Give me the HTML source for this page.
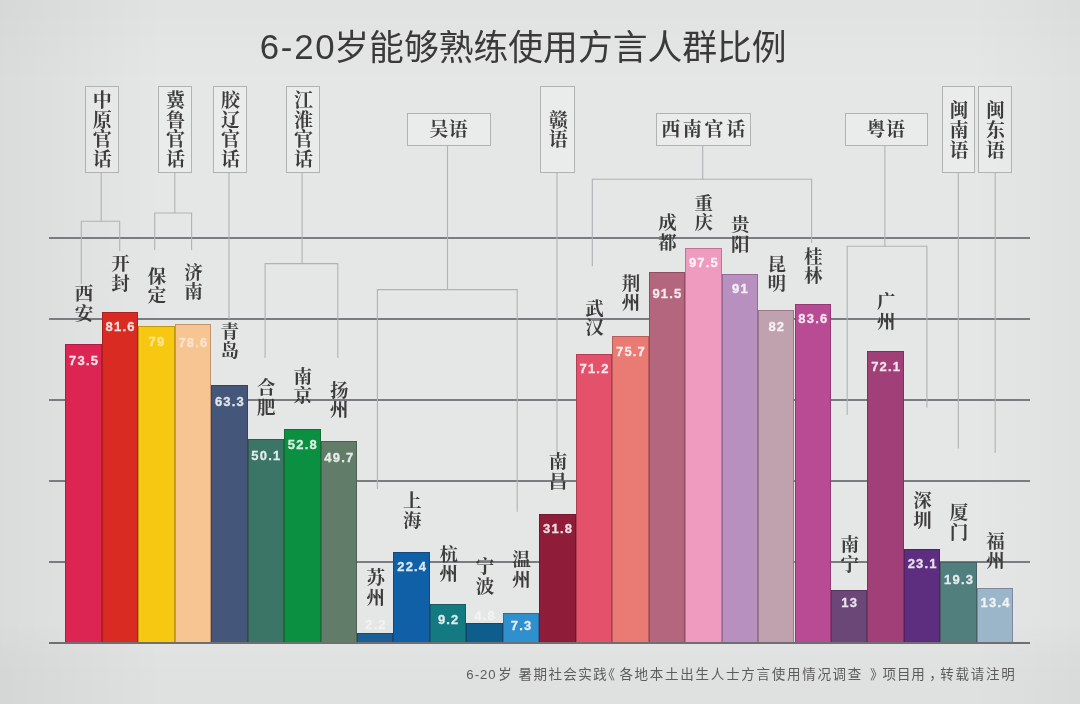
<!DOCTYPE html>
<html lang="zh"><head><meta charset="utf-8"><title>6-20岁能够熟练使用方言人群比例</title>
<style>
html,body{margin:0;padding:0}
body{width:1080px;height:704px;overflow:hidden;font-family:"Liberation Sans",sans-serif;background:#e2e3e4}
#c{position:relative;width:1080px;height:704px;overflow:hidden;
 background:
  linear-gradient(to right,rgba(0,0,6,.048) 0,rgba(0,0,6,.03) 5%,rgba(0,0,0,0) 15%,rgba(0,0,0,0) 90%,rgba(0,0,6,.028) 100%),
  linear-gradient(to bottom,rgba(0,0,6,.02) 0,rgba(0,0,0,0) 12%,rgba(0,0,0,0) 88%,rgba(0,0,6,.024) 94%,rgba(0,0,6,.028) 100%),
  #e5e6e6}
#b{position:absolute;left:0;top:0;width:1080px;height:704px;filter:blur(0.75px);}
.grid{position:absolute;left:48.5px;width:981.0px;height:1.5px;background:#7a7c7f}
.bar{position:absolute;box-sizing:border-box;border:1px solid rgba(40,0,20,.25);border-bottom:0}
.val{position:absolute;color:#fff;font-weight:bold;font-size:13px;line-height:13px;letter-spacing:1.2px;text-align:center;text-indent:1.2px;opacity:.86;-webkit-text-stroke:.3px #fff}
.box{position:absolute;border:1px solid #b1b2b4;background:rgba(255,255,255,.2)}
svg{position:absolute;left:0;top:0}
.t{position:absolute;color:transparent;white-space:nowrap;overflow:hidden}
.t.v{text-align:center}
h1,p{margin:0;font-weight:normal}
</style></head><body><div id="c"><div id="b">
<div class="grid" style="top:642.00px"></div>
<div class="grid" style="top:561.00px"></div>
<div class="grid" style="top:480.00px"></div>
<div class="grid" style="top:399.00px"></div>
<div class="grid" style="top:318.00px"></div>
<div class="grid" style="top:237.00px"></div>
<svg width="1080" height="704" viewBox="0 0 1080 704" fill="none" stroke="#b0b2b4" stroke-width="1.1">
<polyline points="101.2,172.2 101.2,221.2"/>
<polyline points="81.3,284.0 81.3,221.2 119.7,221.2 119.7,251.0"/>
<polyline points="174.8,172.2 174.8,213.0"/>
<polyline points="154.7,250.0 154.7,213.0 191.6,213.0 191.6,250.0"/>
<polyline points="229.0,172.2 229.0,319.0"/>
<polyline points="302.1,172.2 302.1,263.6"/>
<polyline points="265.1,358.0 265.1,263.6 337.8,263.6 337.8,358.0"/>
<polyline points="447.5,145.3 447.5,289.6"/>
<polyline points="377.4,489.0 377.4,289.6 517.2,289.6 517.2,511.7"/>
<polyline points="557.0,172.2 557.0,452.0"/>
<polyline points="702.7,145.3 702.7,179.3"/>
<polyline points="592.3,266.3 592.3,179.3 811.6,179.3 811.6,243.0"/>
<polyline points="884.9,145.3 884.9,246.2"/>
<polyline points="847.2,414.7 847.2,246.2 926.9,246.2 926.9,407.6"/>
<polyline points="958.3,172.2 958.3,448.5"/>
<polyline points="995.2,172.2 995.2,453.0"/>
</svg>
<div class="box" style="left:84.6px;top:86.2px;width:32.3px;height:84.5px"></div>
<div class="box" style="left:157.7px;top:86.2px;width:32.6px;height:84.5px"></div>
<div class="box" style="left:212.7px;top:86.2px;width:32.6px;height:84.5px"></div>
<div class="box" style="left:286.0px;top:86.2px;width:32.1px;height:84.5px"></div>
<div class="box" style="left:406.8px;top:112.5px;width:82.2px;height:31.3px"></div>
<div class="box" style="left:540.3px;top:86.2px;width:32.8px;height:84.5px"></div>
<div class="box" style="left:655.9px;top:112.5px;width:93.2px;height:31.3px"></div>
<div class="box" style="left:844.5px;top:112.5px;width:81.4px;height:31.3px"></div>
<div class="box" style="left:941.7px;top:86.2px;width:31.5px;height:84.5px"></div>
<div class="box" style="left:978.0px;top:86.2px;width:32.3px;height:84.5px"></div>
<div class="bar" style="left:65.30px;top:344.40px;width:36.46px;height:298.90px;background:#dc2553"></div>
<div class="bar" style="left:101.76px;top:311.90px;width:36.46px;height:331.40px;background:#da2b22"></div>
<div class="bar" style="left:138.22px;top:326.10px;width:36.46px;height:317.20px;background:#f7c811"></div>
<div class="bar" style="left:174.68px;top:323.90px;width:36.46px;height:319.40px;background:#f6c592"></div>
<div class="bar" style="left:211.14px;top:385.40px;width:36.46px;height:257.90px;background:#44577b"></div>
<div class="bar" style="left:247.60px;top:439.30px;width:36.46px;height:204.00px;background:#3a7566"></div>
<div class="bar" style="left:284.06px;top:428.50px;width:36.46px;height:214.80px;background:#0a9040"></div>
<div class="bar" style="left:320.52px;top:440.80px;width:36.46px;height:202.50px;background:#617c68"></div>
<div class="bar" style="left:356.98px;top:633.00px;width:36.46px;height:10.30px;background:#1b5f97"></div>
<div class="bar" style="left:393.44px;top:551.60px;width:36.46px;height:91.70px;background:#0f60a6"></div>
<div class="bar" style="left:429.90px;top:604.40px;width:36.46px;height:38.90px;background:#137a82"></div>
<div class="bar" style="left:466.36px;top:622.80px;width:36.46px;height:20.50px;background:#0e5d8d"></div>
<div class="bar" style="left:502.82px;top:613.10px;width:36.46px;height:30.20px;background:#2f90cd"></div>
<div class="bar" style="left:539.28px;top:514.30px;width:36.46px;height:129.00px;background:#8f1c39"></div>
<div class="bar" style="left:575.74px;top:353.90px;width:36.46px;height:289.40px;background:#e3516a"></div>
<div class="bar" style="left:612.20px;top:336.20px;width:36.46px;height:307.10px;background:#e97b74"></div>
<div class="bar" style="left:648.66px;top:271.50px;width:36.46px;height:371.80px;background:#b3667d"></div>
<div class="bar" style="left:685.12px;top:248.10px;width:36.46px;height:395.20px;background:#ef9bc0"></div>
<div class="bar" style="left:721.58px;top:273.50px;width:36.46px;height:369.80px;background:#b890c0"></div>
<div class="bar" style="left:758.04px;top:309.60px;width:36.46px;height:333.70px;background:#c0a1ae"></div>
<div class="bar" style="left:794.50px;top:303.90px;width:36.46px;height:339.40px;background:#b84b94"></div>
<div class="bar" style="left:830.96px;top:590.00px;width:36.46px;height:53.30px;background:#6b4777"></div>
<div class="bar" style="left:867.42px;top:350.80px;width:36.46px;height:292.50px;background:#a13f79"></div>
<div class="bar" style="left:903.88px;top:548.70px;width:36.46px;height:94.60px;background:#5d2e7f"></div>
<div class="bar" style="left:940.34px;top:562.20px;width:36.46px;height:81.10px;background:#507f7d"></div>
<div class="bar" style="left:976.80px;top:588.10px;width:36.46px;height:55.20px;background:#9bb5c9"></div>
<div class="grid" style="top:642px;background:#6f6f72"></div>
<div class="val" style="left:61.30px;top:353.70px;width:44.46px">73.5</div>
<div class="val" style="left:97.76px;top:320.40px;width:44.46px">81.6</div>
<div class="val" style="left:134.22px;top:335.30px;width:44.46px;opacity:.52">79</div>
<div class="val" style="left:170.68px;top:336.10px;width:44.46px;opacity:.52">78.6</div>
<div class="val" style="left:207.14px;top:394.80px;width:44.46px">63.3</div>
<div class="val" style="left:243.60px;top:448.60px;width:44.46px">50.1</div>
<div class="val" style="left:280.06px;top:438.10px;width:44.46px">52.8</div>
<div class="val" style="left:316.52px;top:450.80px;width:44.46px">49.7</div>
<div class="val" style="left:352.98px;top:617.50px;width:44.46px;opacity:.5">2.2</div>
<div class="val" style="left:389.44px;top:559.70px;width:44.46px">22.4</div>
<div class="val" style="left:425.90px;top:613.40px;width:44.46px">9.2</div>
<div class="val" style="left:462.36px;top:609.30px;width:44.46px;opacity:.5">4.8</div>
<div class="val" style="left:498.82px;top:618.60px;width:44.46px">7.3</div>
<div class="val" style="left:535.28px;top:522.00px;width:44.46px">31.8</div>
<div class="val" style="left:571.74px;top:362.40px;width:44.46px">71.2</div>
<div class="val" style="left:608.20px;top:344.50px;width:44.46px">75.7</div>
<div class="val" style="left:644.66px;top:286.80px;width:44.46px">91.5</div>
<div class="val" style="left:681.12px;top:256.20px;width:44.46px">97.5</div>
<div class="val" style="left:717.58px;top:282.30px;width:44.46px">91</div>
<div class="val" style="left:754.04px;top:320.30px;width:44.46px">82</div>
<div class="val" style="left:790.50px;top:312.10px;width:44.46px">83.6</div>
<div class="val" style="left:826.96px;top:595.70px;width:44.46px">13</div>
<div class="val" style="left:863.42px;top:359.50px;width:44.46px">72.1</div>
<div class="val" style="left:899.88px;top:556.80px;width:44.46px">23.1</div>
<div class="val" style="left:936.34px;top:573.40px;width:44.46px">19.3</div>
<div class="val" style="left:972.80px;top:595.70px;width:44.46px">13.4</div>
<svg width="1080" height="704" viewBox="0 0 1080 704">
<g fill="#3c3c3c" font-family="'Liberation Serif','Noto Serif CJK SC',serif" font-weight="bold" font-size="18.5">
<text x="74.78" y="300.22">西</text><text x="74.78" y="319.72">安</text>
<text x="111.24" y="270.03">开</text><text x="111.24" y="289.53">封</text>
<text x="147.70" y="282.59">保</text><text x="147.70" y="302.09">定</text>
<text x="184.16" y="278.52">济</text><text x="184.16" y="298.02">南</text>
<text x="220.62" y="337.96">青</text><text x="220.62" y="357.46">岛</text>
<text x="257.08" y="394.21">合</text><text x="257.08" y="413.71">肥</text>
<text x="293.54" y="382.50">南</text><text x="293.54" y="402.00">京</text>
<text x="330.00" y="396.77">扬</text><text x="330.00" y="416.27">州</text>
<text x="366.46" y="584.34">苏</text><text x="366.46" y="603.84">州</text>
<text x="402.92" y="507.34">上</text><text x="402.92" y="526.84">海</text>
<text x="439.38" y="560.54">杭</text><text x="439.38" y="580.04">州</text>
<text x="475.84" y="573.45">宁</text><text x="475.84" y="592.95">波</text>
<text x="512.30" y="566.21">温</text><text x="512.30" y="585.71">州</text>
<text x="548.76" y="468.31">南</text><text x="548.76" y="487.81">昌</text>
<text x="585.22" y="314.63">武</text><text x="585.22" y="334.13">汉</text>
<text x="621.68" y="289.67">荆</text><text x="621.68" y="309.17">州</text>
<text x="658.14" y="229.48">成</text><text x="658.14" y="248.98">都</text>
<text x="694.60" y="209.76">重</text><text x="694.60" y="229.26">庆</text>
<text x="731.06" y="231.48">贵</text><text x="731.06" y="250.98">阳</text>
<text x="767.52" y="270.67">昆</text><text x="767.52" y="290.17">明</text>
<text x="803.98" y="262.87">桂</text><text x="803.98" y="282.37">林</text>
<text x="840.44" y="551.08">南</text><text x="840.44" y="570.58">宁</text>
<text x="876.90" y="308.09">广</text><text x="876.90" y="327.59">州</text>
<text x="913.36" y="507.35">深</text><text x="913.36" y="526.85">圳</text>
<text x="949.82" y="519.34">厦</text><text x="949.82" y="538.84">门</text>
<text x="986.28" y="547.77">福</text><text x="986.28" y="567.27">州</text>
</g>
<g fill="#3c3c3c" font-family="'Liberation Serif','Noto Serif CJK SC',serif" font-weight="bold" font-size="19">
<text x="92.70" y="107.32">中</text><text x="92.70" y="126.82">原</text><text x="92.70" y="146.32">官</text><text x="92.70" y="165.82">话</text>
<text x="165.95" y="107.33">冀</text><text x="165.95" y="126.83">鲁</text><text x="165.95" y="146.33">官</text><text x="165.95" y="165.83">话</text>
<text x="220.95" y="107.31">胶</text><text x="220.95" y="126.81">辽</text><text x="220.95" y="146.31">官</text><text x="220.95" y="165.81">话</text>
<text x="294.00" y="107.15">江</text><text x="294.00" y="126.65">淮</text><text x="294.00" y="146.15">官</text><text x="294.00" y="165.65">话</text>
<text x="429.22" y="136.38" letter-spacing="0.6">吴语</text>
<text x="548.65" y="126.89">赣</text><text x="548.65" y="146.39">语</text>
<text x="661.15" y="136.38" letter-spacing="2.7">西南官话</text>
<text x="866.49" y="136.38" letter-spacing="0.6">粤语</text>
<text x="949.40" y="116.63">闽</text><text x="949.40" y="136.63">南</text><text x="949.40" y="156.63">语</text>
<text x="986.10" y="116.63">闽</text><text x="986.10" y="136.63">东</text><text x="986.10" y="156.63">语</text>
</g>
<g fill="#3a3a3a" font-family="'Liberation Sans','Noto Sans CJK SC',sans-serif" font-size="34.8">
<text x="259.72" y="59.00" textLength="75" lengthAdjust="spacing">6-20</text>
<text x="334.30" y="60.40">岁能够熟练使用方言人群比例</text>
</g>
<g fill="#5c5c5c" font-family="'Liberation Sans','Noto Sans CJK SC',sans-serif" font-size="13.5">
<text x="466.30" y="678.90" font-size="13.2" letter-spacing="1">6-20</text>
<text x="498.20" y="678.90">岁</text>
<text x="518.50" y="678.90" letter-spacing="1.45">暑期社会实践</text>
<text x="601.60" y="678.90">《</text>
<text x="619.40" y="678.90" letter-spacing="1.73">各地本土出生人士方言使用情况调查</text>
<text x="869.90" y="678.90">》</text>
<text x="882.60" y="678.90" letter-spacing="0.8">项目用</text>
<text x="929.31" y="678.90">，</text>
<text x="940.20" y="678.90" letter-spacing="1.75">转载请注明</text>
</g>
</svg>
</div>
<h1 class="t" style="left:261px;top:28px;font-size:34.5px;line-height:38px">6-20岁能够熟练使用方言人群比例</h1>
<div class="t v city" style="left:74.8px;top:283.9px;width:18.5px;font-size:18.5px;line-height:19.5px">西<br>安</div>
<div class="t v city" style="left:111.2px;top:253.8px;width:18.5px;font-size:18.5px;line-height:19.5px">开<br>封</div>
<div class="t v city" style="left:147.7px;top:266.3px;width:18.5px;font-size:18.5px;line-height:19.5px">保<br>定</div>
<div class="t v city" style="left:184.2px;top:262.2px;width:18.5px;font-size:18.5px;line-height:19.5px">济<br>南</div>
<div class="t v city" style="left:220.6px;top:321.7px;width:18.5px;font-size:18.5px;line-height:19.5px">青<br>岛</div>
<div class="t v city" style="left:257.1px;top:377.9px;width:18.5px;font-size:18.5px;line-height:19.5px">合<br>肥</div>
<div class="t v city" style="left:293.5px;top:366.2px;width:18.5px;font-size:18.5px;line-height:19.5px">南<br>京</div>
<div class="t v city" style="left:330.0px;top:380.5px;width:18.5px;font-size:18.5px;line-height:19.5px">扬<br>州</div>
<div class="t v city" style="left:366.5px;top:568.1px;width:18.5px;font-size:18.5px;line-height:19.5px">苏<br>州</div>
<div class="t v city" style="left:402.9px;top:491.1px;width:18.5px;font-size:18.5px;line-height:19.5px">上<br>海</div>
<div class="t v city" style="left:439.4px;top:544.3px;width:18.5px;font-size:18.5px;line-height:19.5px">杭<br>州</div>
<div class="t v city" style="left:475.8px;top:557.2px;width:18.5px;font-size:18.5px;line-height:19.5px">宁<br>波</div>
<div class="t v city" style="left:512.3px;top:549.9px;width:18.5px;font-size:18.5px;line-height:19.5px">温<br>州</div>
<div class="t v city" style="left:548.8px;top:452.0px;width:18.5px;font-size:18.5px;line-height:19.5px">南<br>昌</div>
<div class="t v city" style="left:585.2px;top:298.4px;width:18.5px;font-size:18.5px;line-height:19.5px">武<br>汉</div>
<div class="t v city" style="left:621.7px;top:273.4px;width:18.5px;font-size:18.5px;line-height:19.5px">荆<br>州</div>
<div class="t v city" style="left:658.1px;top:213.2px;width:18.5px;font-size:18.5px;line-height:19.5px">成<br>都</div>
<div class="t v city" style="left:694.6px;top:193.5px;width:18.5px;font-size:18.5px;line-height:19.5px">重<br>庆</div>
<div class="t v city" style="left:731.1px;top:215.2px;width:18.5px;font-size:18.5px;line-height:19.5px">贵<br>阳</div>
<div class="t v city" style="left:767.5px;top:254.4px;width:18.5px;font-size:18.5px;line-height:19.5px">昆<br>明</div>
<div class="t v city" style="left:804.0px;top:246.6px;width:18.5px;font-size:18.5px;line-height:19.5px">桂<br>林</div>
<div class="t v city" style="left:840.4px;top:534.8px;width:18.5px;font-size:18.5px;line-height:19.5px">南<br>宁</div>
<div class="t v city" style="left:876.9px;top:291.8px;width:18.5px;font-size:18.5px;line-height:19.5px">广<br>州</div>
<div class="t v city" style="left:913.4px;top:491.1px;width:18.5px;font-size:18.5px;line-height:19.5px">深<br>圳</div>
<div class="t v city" style="left:949.8px;top:503.1px;width:18.5px;font-size:18.5px;line-height:19.5px">厦<br>门</div>
<div class="t v city" style="left:986.3px;top:531.5px;width:18.5px;font-size:18.5px;line-height:19.5px">福<br>州</div>
<div class="t v cat" style="left:92.7px;top:90.6px;width:19.0px;font-size:19.0px;line-height:19.5px">中<br>原<br>官<br>话</div>
<div class="t v cat" style="left:165.9px;top:90.6px;width:19.0px;font-size:19.0px;line-height:19.5px">冀<br>鲁<br>官<br>话</div>
<div class="t v cat" style="left:220.9px;top:90.6px;width:19.0px;font-size:19.0px;line-height:19.5px">胶<br>辽<br>官<br>话</div>
<div class="t v cat" style="left:294.0px;top:90.4px;width:19.0px;font-size:19.0px;line-height:19.5px">江<br>淮<br>官<br>话</div>
<div class="t cat" style="left:429.2px;top:119.9px;font-size:19.0px;line-height:19.0px;letter-spacing:0.6px">吴语</div>
<div class="t v cat" style="left:548.6px;top:110.2px;width:19.0px;font-size:19.0px;line-height:19.5px">赣<br>语</div>
<div class="t cat" style="left:661.1px;top:119.9px;font-size:19.0px;line-height:19.0px;letter-spacing:2.7px">西南官话</div>
<div class="t cat" style="left:866.5px;top:119.9px;font-size:19.0px;line-height:19.0px;letter-spacing:0.6px">粤语</div>
<div class="t v cat" style="left:949.4px;top:99.9px;width:19.0px;font-size:19.0px;line-height:20.0px">闽<br>南<br>语</div>
<div class="t v cat" style="left:986.1px;top:99.9px;width:19.0px;font-size:19.0px;line-height:20.0px">闽<br>东<br>语</div>
<p class="t" style="left:466px;top:666px;font-size:13px;line-height:16px;letter-spacing:2px">6-20岁 暑期社会实践《各地本土出生人士方言使用情况调查》项目用，转载请注明</p>
</div></body></html>
